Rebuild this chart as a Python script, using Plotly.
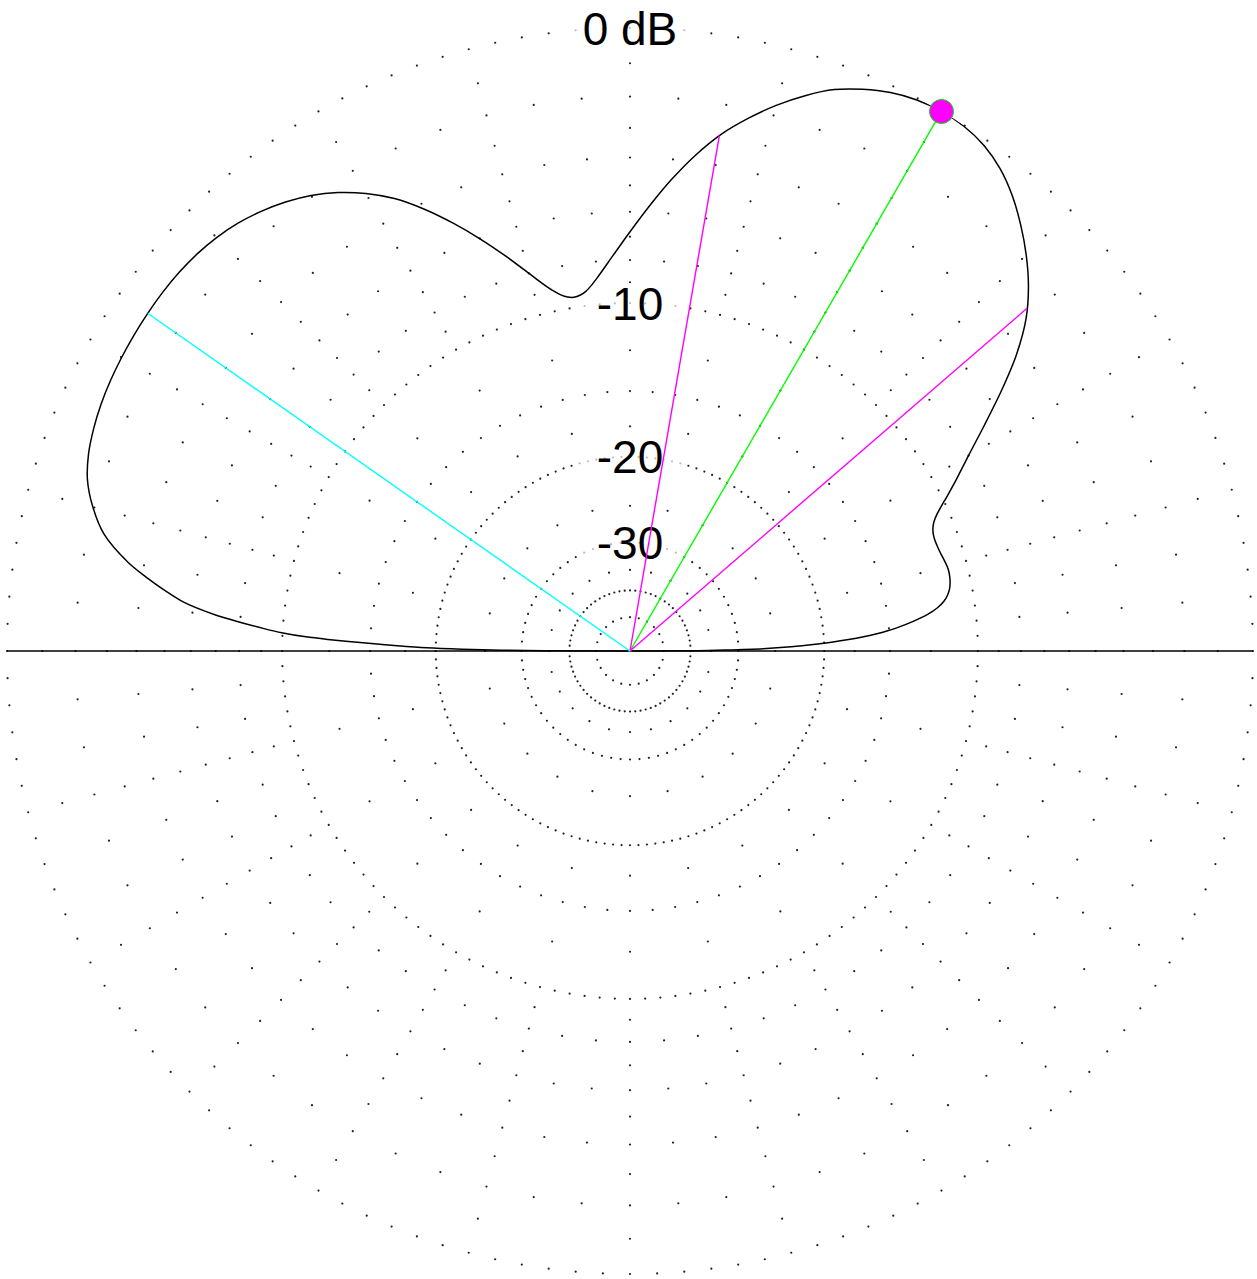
import numpy as np
import plotly.graph_objects as go

# ---------------- data ----------------
# elevation angle (deg) and relative gain (dB) of the pattern
elev_deg = [0, 0.3, 0.6, 1.0, 1.5, 2.0, 2.5, 3.0, 3.5, 4.0, 4.5, 5.0, 6.0, 7.0, 8.0,
            9.0, 10.0, 11.0, 12.0, 13.0, 14.0, 15.0, 16.0, 17.0, 18.0, 19.0, 20.0,
            21.0, 22.0, 23.0, 24.0, 25.0, 26.0, 27.5, 30.0, 32.5, 35.0, 37.5, 40.0,
            42.5, 45.0, 47.5, 50.0, 52.5, 55.0, 57.5, 60.0, 62.5, 65.0, 67.5, 70.0,
            72.5, 75.0, 77.5, 80.0, 82.5, 85.0, 87.5, 90.0, 92.5, 95.0, 96.0, 97.0,
            98.0, 99.0, 100.0, 101.0, 102.0, 103.0, 104.0, 105.0, 107.5, 110.0,
            112.5, 115.0, 117.5, 120.0, 122.5, 125.0, 127.5, 130.0, 132.5, 135.0,
            137.5, 140.0, 142.5, 145.0, 147.5, 150.0, 152.5, 155.0, 157.5, 160.0,
            162.5, 165.0, 167.5, 170.0, 171.25, 172.5, 173.75, 175.0, 175.75, 176.5,
            177.0, 177.5, 177.8, 178.3, 178.7, 179.1, 179.4, 179.65, 179.85, 180.0]
gain_db = [-99, -38.0, -32.3, -26.5, -23.2, -21.0, -19.35, -17.95, -16.8, -15.85,
           -15.1, -14.45, -13.4, -12.55, -11.95, -11.55, -11.3, -11.14, -11.05, -11.0,
           -10.98, -11.0, -11.05, -11.11, -11.16, -11.19, -11.2, -11.17, -11.08,
           -10.9, -10.6, -10.2, -9.76, -9.1, -8.0, -6.76, -5.46, -4.22, -3.2,
           -2.44, -1.82, -1.28, -0.8, -0.42, -0.16, -0.03, 0.0, -0.05, -0.19, -0.42,
           -0.72, -1.16, -1.68, -2.28, -2.95, -3.78, -4.73, -5.76, -6.8, -7.8, -8.72,
           -9.04, -9.3, -9.45, -9.5, -9.44, -9.28, -9.03, -8.72, -8.37, -7.99, -7.0,
           -6.02, -5.08, -4.2, -3.43, -2.83, -2.34, -1.95, -1.65, -1.41, -1.22,
           -1.09, -1.01, -0.97, -0.96, -0.97, -0.99, -1.02, -1.06, -1.12, -1.21,
           -1.34, -1.56, -1.95, -2.5, -3.45, -4.1, -4.82, -5.62, -6.9, -7.95, -9.1,
           -9.95, -11.2, -12.4, -14.9, -16.9, -19.2, -22.5, -27.0, -34.0, -99]

# grid rings (dB) and the angular spacing of their dots (deg)
ring_db = [0, -1, -2, -3, -4, -5, -6, -7, -8, -9, -10, -12.5, -15, -17.5,
           -20, -25, -30, -35, -40, -50]
ring_step_deg = [2.5, 15, 5, 15, 5, 15, 5, 15, 5, 15, 2.5, 15, 5, 15,
                 2.5, 15, 5, 15, 5, 15]

# ring labels
label_text = ["0 dB", "-10", "-20", "-30"]
label_db = [0, -10, -20, -30]
label_width_px = [104, 74, 74, 74]

# marker lines: max gain (green), -3 dB beamwidth (magenta), rear (cyan)
beam_angle = [60.0, 80.16, 40.8, 145.0]
beam_color = ["#00ff00", "#ff00ff", "#ff00ff", "#00ffff"]
max_angle = 60.0

LABEL_PX = 46


def arrl(db):
    """ARRL log-periodic radial scale: 0.89 per 2 dB."""
    return 0.89 ** (-np.asarray(db, dtype=float) / 2.0)


fig = go.Figure()

# grid dots
g_theta, g_r = [], []
for db, step in zip(ring_db, ring_step_deg):
    th = np.arange(0, 360, step)
    g_theta.extend(th.tolist())
    g_r.extend([float(arrl(db))] * len(th))
fig.add_trace(go.Scatterpolar(
    r=g_r, theta=g_theta, mode="markers",
    marker=dict(size=2.2, color="#202020", line=dict(width=0)),
    hoverinfo="skip", showlegend=False))

# horizontal baseline (0 - 180 deg)
fig.add_trace(go.Scatterpolar(
    r=[float(arrl(0)), 0, float(arrl(0))], theta=[0, 0, 180], mode="lines",
    line=dict(color="black", width=1.5), hoverinfo="skip", showlegend=False))

# white backing for labels
lab_r = arrl(label_db).tolist()
fig.add_trace(go.Scatterpolar(
    r=lab_r, theta=[90] * len(label_db), mode="markers",
    marker=dict(symbol="line-ew", size=label_width_px, color="white",
                line=dict(color="white", width=38)),
    hoverinfo="skip", showlegend=False))

# labels (outer font size sets the vertical centring, inner span the glyph size)
fig.add_trace(go.Scatterpolar(
    r=lab_r, theta=[90] * len(label_db), mode="text",
    text=[f"<span style='font-size:{LABEL_PX}px'>{t}</span>" for t in label_text],
    textposition="middle center",
    textfont=dict(family="Liberation Sans, Arial, Helvetica, sans-serif",
                  size=66, color="black"),
    hoverinfo="skip", showlegend=False))

# pattern curve
fig.add_trace(go.Scatterpolar(
    r=arrl(gain_db).tolist(), theta=elev_deg, mode="lines",
    line=dict(color="black", width=1.5, shape="spline", smoothing=0.8),
    hoverinfo="skip", showlegend=False))

# marker lines from the origin to the curve
for ang, col in zip(beam_angle, beam_color):
    db_at = float(np.interp(ang, elev_deg, gain_db))
    fig.add_trace(go.Scatterpolar(
        r=[0, float(arrl(db_at))], theta=[ang, ang], mode="lines",
        line=dict(color=col, width=1.4), hoverinfo="skip", showlegend=False))

# max gain dot
max_db = float(np.interp(max_angle, elev_deg, gain_db))
fig.add_trace(go.Scatterpolar(
    r=[float(arrl(max_db))], theta=[max_angle], mode="markers",
    marker=dict(size=24, color="#ff00ff", line=dict(color="#00dd00", width=1)),
    hoverinfo="skip", showlegend=False))

W, H = 1257, 1279
cx, cy, R = 630, 651, 623
fig.update_layout(
    width=W, height=H, autosize=False,
    margin=dict(l=0, r=0, t=0, b=0, pad=0),
    paper_bgcolor="white", plot_bgcolor="white",
    showlegend=False,
    polar=dict(
        domain=dict(x=[(cx - R) / W, (cx + R) / W],
                    y=[(H - cy - R) / H, (H - cy + R) / H]),
        bgcolor="white",
        radialaxis=dict(range=[0, 1.0], visible=False, showgrid=False,
                        showline=False, showticklabels=False, ticks=""),
        angularaxis=dict(rotation=0, direction="counterclockwise", visible=False,
                         showgrid=False, showline=False, showticklabels=False,
                         ticks=""),
    ),
)

fig.write_html("out.html", include_plotlyjs=True,
               config={"displayModeBar": False},
               post_script="document.body.style.margin='0';document.body.style.overflow='hidden';")
